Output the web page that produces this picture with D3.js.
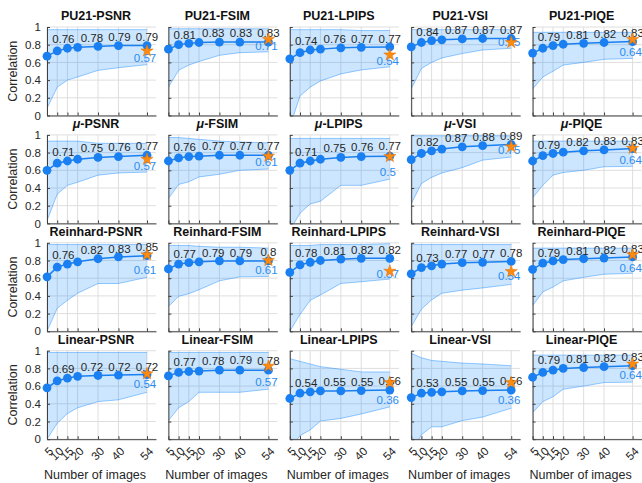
<!DOCTYPE html>
<html>
<head>
<meta charset="utf-8">
<script src="https://cdn.jsdelivr.net/npm/d3@7"></script>
<style>body{margin:0;background:#fff}</style>
</head>
<body>
<script>
var xs = [5,10,15,20,30,40,54];
var yTicks = [0,0.2,0.4,0.6,0.8,1];
var labelX = [13,27,40.5,54];

var titles = [
  "PU21-PSNR","PU21-FSIM","PU21-LPIPS","PU21-VSI","PU21-PIQE",
  "\u03bc-PSNR","\u03bc-FSIM","\u03bc-LPIPS","\u03bc-VSI","\u03bc-PIQE",
  "Reinhard-PSNR","Reinhard-FSIM","Reinhard-LPIPS","Reinhard-VSI","Reinhard-PIQE",
  "Linear-PSNR","Linear-FSIM","Linear-LPIPS","Linear-VSI","Linear-PIQE"
];

var meanVals = [
  [0.67,0.73,0.76,0.77,0.78,0.79,0.79],
  [0.75,0.80,0.815,0.825,0.83,0.83,0.83],
  [0.64,0.71,0.74,0.75,0.765,0.77,0.775],
  [0.775,0.825,0.845,0.855,0.865,0.87,0.87],
  [0.705,0.76,0.79,0.805,0.815,0.825,0.835],
  [0.60,0.68,0.705,0.725,0.745,0.755,0.77],
  [0.705,0.74,0.755,0.76,0.77,0.77,0.77],
  [0.60,0.68,0.705,0.725,0.745,0.755,0.76],
  [0.72,0.79,0.82,0.84,0.865,0.878,0.893],
  [0.705,0.765,0.79,0.805,0.82,0.83,0.845],
  [0.615,0.725,0.76,0.785,0.82,0.84,0.855],
  [0.705,0.76,0.775,0.785,0.795,0.795,0.795],
  [0.665,0.75,0.78,0.80,0.815,0.825,0.825],
  [0.65,0.72,0.74,0.76,0.775,0.78,0.79],
  [0.70,0.77,0.795,0.81,0.82,0.828,0.84],
  [0.58,0.66,0.69,0.71,0.72,0.725,0.73],
  [0.715,0.755,0.765,0.77,0.78,0.78,0.78],
  [0.46,0.52,0.535,0.545,0.545,0.55,0.555],
  [0.47,0.52,0.53,0.535,0.545,0.55,0.555],
  [0.70,0.755,0.78,0.80,0.81,0.82,0.83]
];

var upperVals = [
  [0.97,0.97,0.97,0.97,0.97,0.97,0.97],
  [0.98,0.98,0.98,0.98,0.98,0.98,0.98],
  [0.97,0.97,0.97,0.97,0.97,0.96,0.96],
  [0.97,0.97,0.97,0.97,0.97,0.97,0.97],
  [0.94,0.94,0.94,0.94,0.94,0.94,0.94],
  [0.93,0.93,0.93,0.93,0.905,0.905,0.905],
  [0.97,0.97,0.96,0.95,0.93,0.92,0.91],
  [0.96,0.96,0.96,0.96,0.96,0.96,0.96],
  [0.99,0.99,0.99,0.99,0.99,0.99,0.99],
  [0.93,0.93,0.93,0.93,0.93,0.93,0.93],
  [0.98,0.98,0.98,0.98,0.98,0.98,0.98],
  [0.97,0.97,0.97,0.96,0.95,0.95,0.94],
  [0.97,0.97,0.97,0.98,0.98,0.98,0.99],
  [0.98,0.98,0.98,0.98,0.98,0.98,0.98],
  [0.94,0.94,0.94,0.94,0.94,0.94,0.94],
  [0.98,0.98,0.98,0.98,0.98,0.98,0.98],
  [0.98,0.98,0.98,0.98,0.98,0.98,0.98],
  [0.91,0.88,0.85,0.82,0.79,0.76,0.76],
  [0.97,0.92,0.89,0.88,0.86,0.85,0.83],
  [0.95,0.95,0.95,0.95,0.95,0.95,0.95]
];

var lowerVals = [
  [0.08,0.32,0.40,0.435,0.51,0.54,0.575],
  [0.32,0.51,0.57,0.61,0.68,0.71,0.72],
  [-0.13,0.22,0.32,0.39,0.47,0.515,0.55],
  [0.30,0.53,0.60,0.65,0.70,0.74,0.76],
  [0.30,0.435,0.50,0.57,0.60,0.635,0.645],
  [0.03,0.33,0.43,0.465,0.545,0.57,0.58],
  [0.28,0.44,0.47,0.525,0.555,0.60,0.615],
  [-0.08,0.115,0.22,0.25,0.43,0.43,0.50],
  [0.22,0.45,0.52,0.57,0.63,0.715,0.75],
  [0.29,0.43,0.545,0.575,0.60,0.64,0.645],
  [0.0,0.26,0.35,0.43,0.54,0.54,0.61],
  [0.28,0.395,0.425,0.47,0.57,0.615,0.62],
  [0.0,0.19,0.35,0.41,0.54,0.56,0.59],
  [0.05,0.25,0.355,0.43,0.465,0.49,0.53],
  [0.29,0.445,0.50,0.57,0.61,0.645,0.655],
  [0.0,0.18,0.29,0.355,0.425,0.445,0.53],
  [0.21,0.355,0.425,0.53,0.53,0.53,0.565],
  [-0.1,0.04,0.105,0.205,0.235,0.285,0.365],
  [-0.15,0.05,0.14,0.14,0.21,0.25,0.35],
  [0.30,0.425,0.48,0.565,0.60,0.64,0.645]
];

var labelVals = [
  [0.76,0.78,0.79,0.79],[0.81,0.83,0.83,0.83],[0.74,0.76,0.77,0.77],[0.84,0.87,0.87,0.87],[0.79,0.81,0.82,0.83],
  [0.71,0.75,0.76,0.77],[0.76,0.77,0.77,0.77],[0.71,0.75,0.76,0.77],[0.82,0.87,0.88,0.89],[0.79,0.82,0.83,0.83],
  [0.76,0.82,0.83,0.85],[0.77,0.79,0.79,0.8],[0.78,0.81,0.82,0.82],[0.73,0.77,0.77,0.78],[0.79,0.81,0.82,0.83],
  [0.69,0.72,0.72,0.72],[0.77,0.78,0.79,0.78],[0.54,0.55,0.55,0.56],[0.53,0.55,0.55,0.56],[0.79,0.81,0.82,0.83]
];

var starVals = [
  0.73,0.86,0.685,0.825,0.86,
  0.725,0.76,0.755,0.865,0.848,
  0.865,0.8,0.68,0.675,0.865,
  0.74,0.825,0.64,0.64,0.85
];

var lowLabels = [
  0.57,0.71,0.54,0.75,0.64,
  0.57,0.61,0.5,0.75,0.64,
  0.61,0.61,0.57,0.54,0.64,
  0.54,0.57,0.36,0.36,0.64
];

var W = 642, H = 483;
var cols = 5;
var left = 47, top0 = 27, colStep = 121.4, rowStep = 107.9;
var pw = 109, ph = 88.5;
var blue = "#1a7ff0", bandBlue = "#0080ff", txt = "#262626";

var svg = d3.select("body").append("svg")
  .attr("width", W).attr("height", H)
  .style("font-family", "'Liberation Sans', Arial, Helvetica, sans-serif");

var x = d3.scaleLinear().domain([5, 58.4]).range([0, pw]);
var y = d3.scaleLinear().domain([0, 1]).range([ph, 0]);

var defs = svg.append("defs");

titles.forEach(function(t, i) {
  var r = Math.floor(i / cols), c = i % cols;
  var g = svg.append("g")
    .attr("transform", "translate(" + (left + c * colStep) + "," + (top0 + r * rowStep) + ")");

  defs.append("clipPath").attr("id", "clip" + i)
    .append("rect").attr("x", 0).attr("y", 0).attr("width", pw).attr("height", ph);

  // grid
  g.selectAll(".gy").data(yTicks).enter().append("line")
    .attr("x1", 0).attr("x2", pw)
    .attr("y1", function(d){ return y(d); }).attr("y2", function(d){ return y(d); })
    .attr("stroke", "#dedede").attr("stroke-width", 1);
  g.selectAll(".gx").data(xs).enter().append("line")
    .attr("x1", function(d){ return x(d); }).attr("x2", function(d){ return x(d); })
    .attr("y1", 0).attr("y2", ph)
    .attr("stroke", "#dedede").attr("stroke-width", 1);

  var pts = xs.map(function(v, j) {
    return {x: v, lo: lowerVals[i][j], hi: upperVals[i][j], m: meanVals[i][j]};
  });

  var band = g.append("g").attr("clip-path", "url(#clip" + i + ")");
  band.append("path").datum(pts)
    .attr("d", d3.area().x(function(d){ return x(d.x); })
      .y0(function(d){ return y(d.lo); }).y1(function(d){ return y(d.hi); }))
    .attr("fill", bandBlue).attr("fill-opacity", 0.2);
  ["lo", "hi"].forEach(function(k) {
    band.append("path").datum(pts)
      .attr("d", d3.line().x(function(d){ return x(d.x); }).y(function(d){ return y(d[k]); }))
      .attr("fill", "none").attr("stroke", bandBlue).attr("stroke-opacity", 0.4).attr("stroke-width", 1);
  });

  // axes
  var ya = d3.axisLeft(y).tickValues(yTicks).tickSize(-3).tickSizeOuter(0).tickPadding(6)
    .tickFormat(c === 0 ? d3.format("") : function(){ return ""; });
  var yg = g.append("g").call(ya);
  var xa = d3.axisBottom(x).tickValues(xs).tickSize(-3).tickSizeOuter(0)
    .tickFormat(r === 3 ? d3.format("") : function(){ return ""; });
  var xg = g.append("g").attr("transform", "translate(0," + ph + ")").call(xa);
  [yg, xg].forEach(function(a) {
    a.selectAll("path, line").attr("stroke", "#404040");
    a.selectAll("text").attr("fill", txt).style("font-size", "11.5px");
    a.select(".domain").attr("stroke-width", 1);
  });
  if (r === 3) {
    xg.selectAll(".tick text")
      .attr("text-anchor", "end")
      .attr("dy", "0.35em")
      .attr("y", 0).attr("x", 0)
      .attr("transform", "translate(3.6,10) rotate(-45)");
  }

  // mean line and dots
  g.append("path").datum(pts)
    .attr("d", d3.line().x(function(d){ return x(d.x); }).y(function(d){ return y(d.m); }))
    .attr("fill", "none").attr("stroke", blue).attr("stroke-width", 1.5);
  g.selectAll(".dot").data(pts).enter().append("circle")
    .attr("cx", function(d){ return x(d.x); }).attr("cy", function(d){ return y(d.m); })
    .attr("r", 4.4).attr("fill", blue);

  // value labels
  g.selectAll(".lab").data(labelVals[i]).enter().append("text")
    .attr("x", function(d, j){ return x(labelX[j]); })
    .attr("y", function(d){ return y(d + 0.1); })
    .attr("dy", "0.35em").attr("text-anchor", "middle")
    .attr("fill", txt).style("font-size", "11.5px")
    .text(function(d){ return String(d); });

  g.append("text")
    .attr("x", x(54) - 2).attr("y", y(lowLabels[i] + 0.08))
    .attr("dy", "0.35em").attr("text-anchor", "middle")
    .attr("fill", "#2b8bf0").style("font-size", "11.5px")
    .text(String(lowLabels[i]));

  g.append("path")
    .attr("d", d3.symbol().type(d3.symbolStar).size(46)())
    .attr("transform", "translate(" + x(54) + "," + y(starVals[i]) + ")")
    .attr("fill", "#ff8a10").attr("stroke", "#e07000").attr("stroke-width", 0.5);

  // title (mu set in italic like the TeX label)
  var tt = g.append("text")
    .attr("x", x(29)).attr("y", -7)
    .attr("text-anchor", "middle")
    .attr("fill", "#111").style("font-size", "12.5px").style("font-weight", "bold");
  if (t.charAt(0) === "\u03bc") {
    tt.append("tspan").style("font-style", "italic").text("\u03bc");
    tt.append("tspan").text(t.slice(1));
  } else {
    tt.text(t);
  }

  if (c === 0) {
    g.append("text")
      .attr("transform", "translate(" + (13 - left) + "," + (ph / 2) + ") rotate(-90)")
      .attr("text-anchor", "middle").attr("dy", "0.35em")
      .attr("fill", txt).style("font-size", "12.5px")
      .text("Correlation");
  }
  if (r === 3) {
    g.append("text")
      .attr("x", x(28.5)).attr("y", ph + 40)
      .attr("text-anchor", "middle")
      .attr("fill", txt).style("font-size", "12.5px")
      .text("Number of images");
  }
});
</script>
</body>
</html>
